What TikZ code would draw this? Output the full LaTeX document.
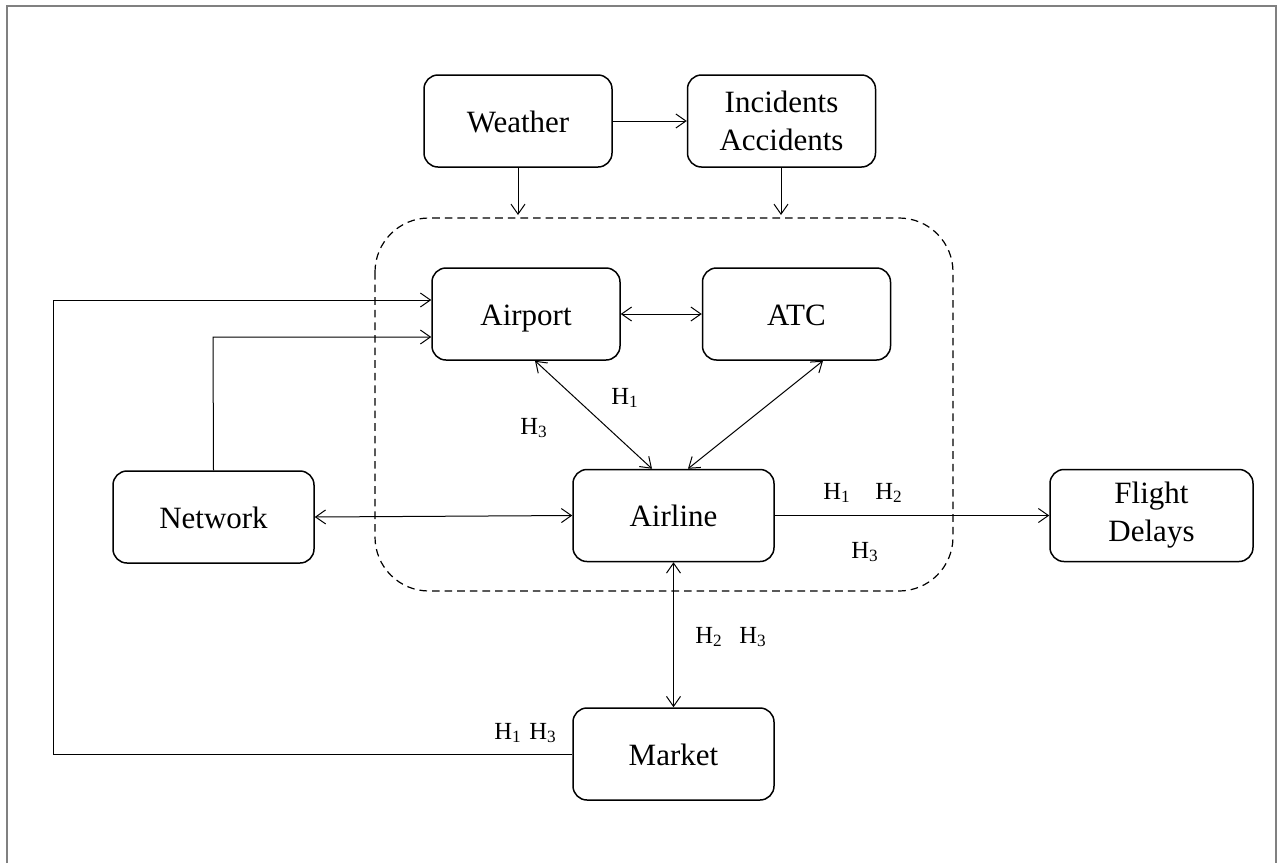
\documentclass[tikz,border=0pt]{standalone}
\usepackage{fontspec}
\setmainfont{Liberation Serif}
\usetikzlibrary{arrows.meta}
\begin{document}
\begin{tikzpicture}[x=0.5pt,y=-0.5pt,
  box/.style={draw, line width=0.75pt, rounded corners=7pt, minimum width=94pt, minimum height=46pt, inner sep=0pt, align=center, font=\fontsize{15.5}{19}\selectfont},
  oneline/.style={text height=15pt, text depth=3.6pt},
  conn/.style={line width=0.5pt},
  tip/.style={-{Straight Barb[length=5pt,width=7pt]}},
  both/.style={{Straight Barb[length=5pt,width=7pt]}-{Straight Barb[length=5pt,width=7pt]}},
  hlab/.style={inner sep=0pt, font=\fontsize{12.3}{14}\selectfont}]
\useasboundingbox (0,0) rectangle (1279,863);
\draw[gray, line width=0.6pt] (7,863) -- (7,6) -- (1276,6) -- (1276,863);
% grouping
\draw[dashed, dash pattern=on 3.8pt off 2.5pt, line width=0.6pt, rounded corners=27pt] (375,218) rectangle (953,591);
% nodes
\node[box,oneline] (weather) at (518,121) {Weather};
\node[box] (incid) at (781.5,121) {Incidents\\Accidents};
\node[box,oneline] (airport) at (526,314) {Airport};
\node[box,oneline] (atc) at (796.5,314) {ATC};
\node[box,oneline, minimum width=100.5pt] (network) at (213.5,517) {Network};
\node[box,oneline, minimum width=100.5pt] (airline) at (673.5,515.5) {Airline};
\node[box, minimum width=101.5pt] (delays) at (1151.5,515.5) {Flight\\Delays};
\node[box,oneline, minimum width=100.5pt] (market) at (673.5,754) {Market};
% free ends at the group border
\coordinate (wIn) at (518,215);
\coordinate (iIn) at (781,215);
\coordinate (loopA) at (53,754);
\coordinate (loopB) at (53,300);
\coordinate (netA) at (213,337);
% connectors
\draw[conn,tip] (weather.east) -- (incid.west);
\draw[conn,tip] (weather.south) -- (wIn);
\draw[conn,tip] (incid.south -| iIn) -- (iIn);
\draw[conn,tip] (market.west) -- (loopA) -- (loopB) -- (loopB -| airport.west);
\draw[conn,tip] (network.north) -- (netA) -- (netA -| airport.west);
\draw[conn,both] (airport.east) -- (atc.west);
\draw[conn,both] (airport.south -| 535,0) -- (airline.north -| 652,0);
\draw[conn,both] (atc.south -| 823,0) -- (airline.north -| 688,0);
\draw[conn,both] (network.east) -- (airline.west);
\draw[conn,tip] (airline.east) -- (delays.west);
\draw[conn,both] (airline.south) -- (market.north);
% labels
\node[hlab] (l1) at (625,398) {H\textsubscript{1}};
\node[hlab] (l2) at (534,428) {H\textsubscript{3}};
\node[hlab] (l3) at (837,493) {H\textsubscript{1}};
\node[hlab] (l4) at (889,493) {H\textsubscript{2}};
\node[hlab] (l5) at (865,552) {H\textsubscript{3}};
\node[hlab] (l6) at (709,637) {H\textsubscript{2}};
\node[hlab] (l7) at (753,637) {H\textsubscript{3}};
\node[hlab] (l8) at (508,733) {H\textsubscript{1}};
\node[hlab] (l9) at (543,733) {H\textsubscript{3}};
\end{tikzpicture}
\end{document}
